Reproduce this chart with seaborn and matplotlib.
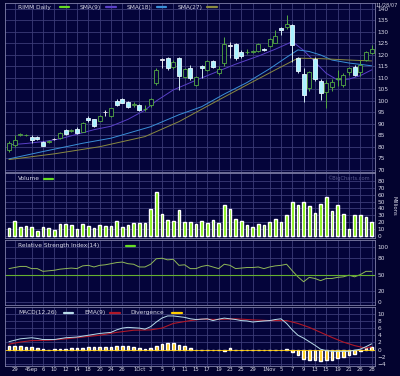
import numpy as np
import pandas as pd
import matplotlib
matplotlib.use("Agg")
import matplotlib.pyplot as plt
import seaborn as sns

# ---- data (trading-day index 0..64) ----
opens = [78.7, 80.9, 85.2, 85.0, 84.5, 84.3, 82.3, 82.1, 83.3, 83.8,
         87.4, 87.0, 88.0, 86.7, 92.5, 92.0, 91.4, 95.0, 93.5, 100.0,
         100.7, 99.7, 98.1, 98.3, 96.3, 98.3, 107.7, 117.8, 118.6, 114.9,
         118.8, 110.6, 114.5, 107.0, 115.0, 113.5, 117.4, 112.3, 116.4, 124.0,
         124.6, 121.4, 121.2, 121.5, 121.9, 122.6, 124.0, 125.4, 131.6, 132.3,
         133.0, 118.6, 111.7, 105.5, 118.1, 108.8, 104.0, 106.0, 109.4, 107.0,
         112.5, 114.9, 112.7, 117.8, 121.0]
closes = [81.9, 83.0, 85.5, 85.4, 83.0, 83.6, 80.4, 82.4, 83.3, 86.0,
          85.7, 87.3, 86.0, 90.6, 91.7, 89.0, 93.5, 95.0, 96.8, 98.3,
          99.3, 97.3, 98.5, 96.1, 96.7, 100.7, 113.5, 117.8, 114.2, 117.0,
          110.9, 113.9, 109.9, 110.3, 114.5, 117.4, 114.9, 113.8, 124.6, 124.0,
          118.6, 119.7, 121.5, 121.8, 124.6, 122.2, 126.8, 128.3, 130.9, 133.5,
          124.3, 113.0, 102.6, 112.7, 109.6, 103.3, 107.7, 108.1, 109.8, 111.3,
          114.2, 111.3, 115.7, 121.4, 122.6]
highs = [82.5, 85.2, 86.0, 85.8, 85.0, 84.6, 82.6, 83.0, 83.8, 86.4,
         87.8, 87.8, 88.5, 91.0, 93.5, 92.3, 93.8, 96.0, 97.0, 100.7,
         101.2, 100.0, 99.5, 98.6, 98.2, 101.3, 114.5, 118.5, 119.0, 118.0,
         119.2, 114.5, 115.5, 111.0, 115.8, 118.0, 118.0, 115.0, 128.0, 125.5,
         125.0, 122.0, 122.5, 122.0, 125.2, 123.0, 127.3, 131.0, 132.0, 137.4,
         133.5, 119.0, 114.5, 113.0, 119.0, 109.6, 109.0, 109.5, 113.5, 112.0,
         114.8, 115.5, 118.0, 121.8, 124.5]
lows = [78.0, 80.1, 84.8, 84.7, 81.9, 83.2, 80.2, 81.8, 82.9, 83.5,
        85.3, 86.7, 85.6, 86.3, 91.0, 88.7, 91.1, 93.5, 93.2, 98.0,
        99.0, 96.8, 97.3, 95.8, 95.5, 97.5, 106.9, 114.2, 113.5, 114.0,
        104.8, 110.0, 109.0, 106.5, 110.0, 113.0, 114.5, 111.5, 115.0, 118.5,
        118.0, 118.5, 120.5, 121.0, 121.5, 121.8, 123.5, 125.0, 128.5, 131.5,
        117.0, 112.0, 99.7, 104.5, 108.8, 100.4, 97.0, 104.4, 106.5, 106.0,
        111.5, 110.8, 111.0, 117.3, 120.3]
volume = [12, 22, 13, 15, 13, 8, 13, 12, 9, 17,
          17, 16, 10, 17, 15, 12, 16, 15, 15, 22,
          13, 16, 19, 19, 19, 39, 64, 32, 23, 22,
          38, 20, 20, 17, 22, 19, 23, 19, 45, 39,
          25, 22, 16, 13, 17, 16, 20, 25, 20, 31,
          50, 45, 50, 44, 33, 47, 57, 36, 45, 32,
          10, 31, 31, 28, 20]

# moving averages, read at selected days
fast_days = [0, 3, 6, 9, 12, 15, 18, 21, 24, 26, 29, 33, 36, 40, 44, 47, 50,
             52, 54, 56, 58, 60, 62, 64]
sma_fast = [80.9, 81.5, 82.3, 83.5, 85.5, 87.5, 89.0, 92.0, 96.0, 100.0,
            104.8, 109.0, 112.0, 116.0, 119.5, 122.5, 125.8, 122.0, 117.0,
            112.0, 109.1, 109.5, 111.0, 113.5]
mid_days = [0, 6, 13, 18, 25, 30, 34, 38, 42, 46, 49, 51, 53, 55, 57, 60, 64]
sma_mid = [74.8, 78.0, 81.6, 83.8, 88.8, 94.0, 97.5, 103.0, 108.0, 114.0,
           119.0, 122.2, 121.5, 120.0, 117.8, 116.5, 115.3]
slow_days = [0, 8, 16, 24, 30, 37, 42, 47, 51, 55, 60, 64]
sma_slow = [74.5, 77.0, 80.1, 84.5, 91.0, 100.4, 107.0, 113.5, 118.6, 118.4,
            117.8, 117.4]

rsi = [61, 63, 65, 65, 61, 61, 56, 57, 58, 60,
       61, 62, 61, 66, 67, 64, 67, 68, 70, 72,
       73, 70, 69, 64, 64, 69, 79, 80, 77, 78,
       67, 68, 61, 61, 65, 67, 64, 61, 69, 67,
       61, 62, 63, 63, 64, 61, 64, 66, 67, 69,
       57, 46, 37, 45, 43, 39, 43, 43, 45, 46,
       49, 46, 50, 56, 56]

macd_days = [0, 2, 4, 5, 6, 8, 10, 12, 14, 16, 18, 19, 20, 21, 23, 24, 25, 26,
             27, 28, 29, 30, 31, 32, 33, 35, 36, 37, 38, 40, 41, 42, 43, 45,
             46, 47, 48, 49, 50, 51, 52, 53, 54, 55, 56, 57, 58, 60, 62, 63, 64]
macd = [2.2, 3.0, 3.3, 3.1, 2.8, 2.8, 3.3, 3.5, 4.0, 4.5, 4.8, 5.5, 6.0, 6.2,
        6.0, 5.7, 6.4, 7.7, 8.8, 9.4, 9.4, 9.2, 9.0, 8.6, 8.4, 8.6, 8.1, 8.5,
        8.8, 8.4, 8.1, 8.0, 7.7, 8.0, 8.1, 8.4, 8.6, 7.3, 5.5, 4.0, 3.2, 2.2,
        1.2, 0.1, -0.3, -0.5, -0.5, -0.5, 0.1, 0.8, 1.6]
sig_days = [0, 2, 4, 7, 10, 13, 16, 19, 22, 25, 27, 29, 32, 34, 37, 40, 43,
            46, 49, 51, 53, 55, 57, 59, 61, 63, 64]
signal = [1.5, 2.1, 2.5, 2.6, 3.0, 3.5, 4.0, 4.8, 5.4, 5.5, 6.0, 7.3, 8.1,
          8.5, 8.4, 8.6, 8.3, 8.1, 8.1, 7.3, 6.2, 4.8, 3.4, 2.1, 1.1, 0.4, 0.8]
diverg = [1.0, 1.0, 1.0, 0.8, 0.6, 0.3, 0.1, 0.0, 0.2, 0.2,
          0.2, 0.3, 0.3, 0.5, 0.6, 0.8, 0.8, 0.8, 0.8, 1.0,
          1.0, 1.0, 0.8, 0.5, 0.2, 0.3, 1.0, 1.6, 1.9, 1.7,
          1.2, 1.0, 0.4, 0.0, 0.0, 0.0, -0.1, 0.0, -0.3, 0.3,
          0.0, -0.1, 0.0, -0.1, 0.0, -0.2, 0.0, -0.2, 0.0, 0.2,
          -0.6, -1.5, -2.7, -2.8, -3.0, -3.3, -3.0, -2.8, -2.3, -2.0,
          -1.6, -1.2, -0.5, 0.4, 0.6]

tick_days = [1, 4, 6, 8, 10, 12, 14, 16, 18, 20, 23, 25, 27, 29, 31, 33,
             35, 37, 39, 41, 43, 46, 48, 50, 52, 54, 56, 58, 60, 62, 64]
tick_labels = ["29", "4Sep", "6", "10", "12", "14", "18", "20", "24", "26",
               "1Oct", "3", "5", "9", "11", "15", "17", "19", "23", "25",
               "29", "1Nov", "5", "7", "9", "13", "15", "19", "21", "26", "28"]

days = np.arange(len(closes))

# ---- style ----
BG = "#04043a"
GRID = "#3c3c78"
TXT = "#d8d8e8"
sns.set_style("dark", {"axes.facecolor": BG, "figure.facecolor": "#03032f",
                       "axes.edgecolor": "#8888aa", "grid.color": GRID,
                       "text.color": TXT, "xtick.color": TXT, "ytick.color": TXT})
plt.rcParams["font.family"] = ["DejaVu Sans"]
FS = 4.2

W, H = 400, 376
fig = plt.figure(figsize=(4.0, 3.76), dpi=100)


def panel(top, bottom, left=5, right=375):
    return fig.add_axes([left / W, 1 - bottom / H, (right - left) / W, (bottom - top) / H])


ax_p = panel(3, 172)
ax_v = panel(173, 238)
ax_r = panel(240, 305)
ax_m = panel(307, 366)

# candles: hollow green = up, filled cyan = down, white = unchanged
o, c = np.array(opens), np.array(closes)
kind = np.where(np.isclose(o, c), "flat", np.where(c > o, "up", "down"))
wick_col = {"up": "#55aa44", "down": "#d0e8f0", "flat": "#e8e8f0"}
fill_col = {"up": BG, "down": "#aaf2ff", "flat": "#e8e8f0"}
edge_col = {"up": "#55aa44", "down": "#e8f8ff", "flat": "#e8e8f0"}
ax_p.vlines(days, lows, highs, colors=[wick_col[k] for k in kind], lw=0.7, zorder=3)
body_lo = np.minimum(o, c)
body_h = np.maximum(np.abs(c - o), 0.25)
ax_p.bar(days, body_h, bottom=body_lo, width=0.72,
         color=[fill_col[k] for k in kind],
         edgecolor=[edge_col[k] for k in kind], lw=0.6, zorder=4)
sns.lineplot(x=fast_days, y=sma_fast, ax=ax_p, color="#5a40c8", lw=0.7)
sns.lineplot(x=mid_days, y=sma_mid, ax=ax_p, color="#3a90d8", lw=0.7)
sns.lineplot(x=slow_days, y=sma_slow, ax=ax_p, color="#8a8a40", lw=0.7)
ax_p.set_ylim(69.1, 142.6)
ax_p.set_yticks(np.arange(70, 141, 5))

# volume
sns.barplot(x=days, y=volume, native_scale=True, color="#7cf000", width=0.5,
            saturation=1, ax=ax_v)
ax_v.set_ylim(-2.9, 91.6)
ax_v.set_yticks(np.arange(0, 81, 10))

# RSI
sns.lineplot(x=days, y=rsi, ax=ax_r, color="#90b858", lw=0.7)
ax_r.axhline(50, color="#66b030", lw=0.8)
ax_r.set_ylim(-5.5, 113.3)
ax_r.set_yticks([0, 20, 50, 80, 100])

# MACD
sns.barplot(x=days, y=diverg, native_scale=True, color="#ffcc00", width=0.5,
            saturation=1, ax=ax_m)
ax_m.axhline(0, color="#ffcc00", lw=0.6)
sns.lineplot(x=sig_days, y=signal, ax=ax_m, color="#b01828", lw=0.8)
sns.lineplot(x=macd_days, y=macd, ax=ax_m, color="#b8dcea", lw=0.7)
ax_m.set_ylim(-4.6, 11.9)
ax_m.set_yticks(np.arange(-4, 11, 2))

for ax in (ax_p, ax_v, ax_r, ax_m):
    ax.set_xlim(-0.7, 64.6)
    ax.set_xticks(tick_days)
    ax.set_xticklabels([])
    ax.grid(True, color=GRID, lw=0.6)
    ax.yaxis.tick_right()
    ax.tick_params(axis="both", length=0, labelsize=FS, pad=2)
    ax.set_xlabel("")
    ax.set_ylabel("")
    for s in ax.spines.values():
        s.set_linewidth(0.6)
        s.set_color("#8080a8")

ax_m.set_xticklabels(tick_labels)
ax_m.tick_params(axis="x", labelsize=FS - 0.4, pad=1)


def legend(ax, items, y):
    x = 0.035
    for label, col in items:
        ax.text(x, y, label, transform=ax.transAxes, fontsize=FS, color=TXT,
                va="center", ha="left")
        x += len(label) * 0.0105 + 0.008
        ax.plot([x, x + 0.025], [y, y], transform=ax.transAxes, color=col, lw=1.6)
        x += 0.055


legend(ax_p, [("RIMM Daily", "#66dd22"), ("SMA(9)", "#5a40c8"),
              ("SMA(18)", "#3a90d8"), ("SMA(27)", "#8a8a40")], 0.975)
legend(ax_v, [("Volume", "#66dd22")], 0.91)
legend(ax_r, [("Relative Strength Index(14)", "#66dd22")], 0.91)
legend(ax_m, [("MACD(12,26)", "#b8dcea"), ("EMA(9)", "#b01828"),
              ("Divergence", "#ffcc00")], 0.9)

ax_v.text(0.985, 0.92, "\u00a9BigCharts.com", transform=ax_v.transAxes,
          fontsize=FS - 0.5, color="#5a5a90", ha="right", va="center")
fig.text(398 / W, 1 - 5 / H, "11/28/07", fontsize=FS - 0.6, color=TXT,
         ha="right", va="center")
fig.text(394 / W, 1 - 206 / H, "Millions", fontsize=FS - 0.4, color=TXT,
         rotation=270, ha="center", va="center")

fig.savefig("out.png", dpi=100, facecolor=fig.get_facecolor())
